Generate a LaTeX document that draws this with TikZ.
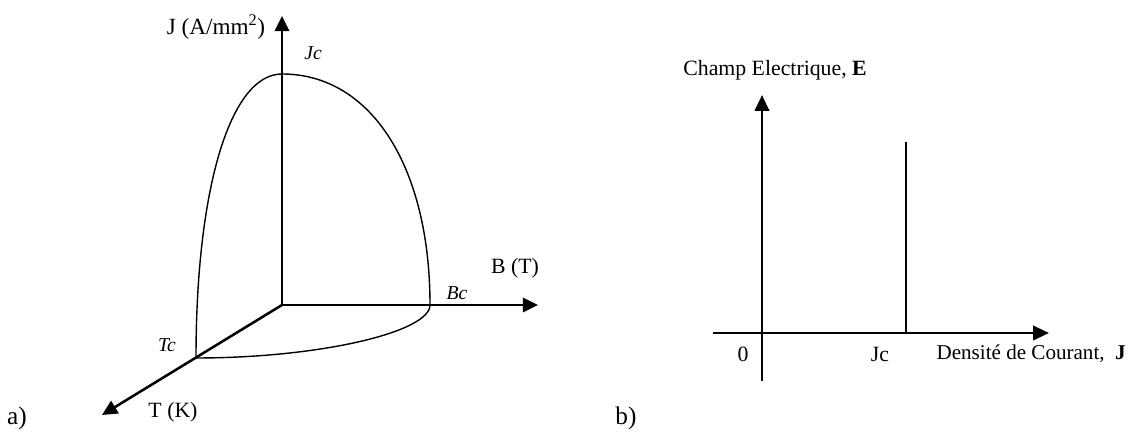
\documentclass[tikz,border=0pt]{standalone}
\usepackage{fontspec}
\setmainfont{Liberation Serif}
\usetikzlibrary{arrows.meta,positioning}

\begin{document}
\begin{tikzpicture}[
    axis/.style={line width=1.8pt,-{Triangle[length=0.38cm,width=0.36cm]}},
    axisb/.style={line width=2pt,-{Triangle[length=0.4cm,width=0.36cm]}},
    curve/.style={line width=1pt},
    lbl/.style={inner sep=0pt,font=\fontsize{15.5}{18}\selectfont},
    crit/.style={inner sep=0pt,font=\fontsize{14}{17}\selectfont\itshape},
    part/.style={inner sep=0pt,font=\fontsize{18}{21}\selectfont}
]
    \useasboundingbox (0,0) rectangle (28.25,10.8);

    % a) critical surface J(B,T)
    \coordinate (O) at (7.05,3.175);
    \coordinate (Jtip) at (7.05,10.4);
    \coordinate (Btip) at (13.45,3.175);
    \coordinate (Ttip) at (2.55,0.425);
    \coordinate (Tc) at (4.9,1.85);
    \coordinate (Bc) at (10.75,3.175);
    \coordinate (Jc) at (7.05,8.95);

    \draw[axis] (O) -- (Jtip);
    \draw[axis] (O) -- (Btip);
    \draw[axis] (O) -- (Ttip);

    \draw[curve] (Tc) .. controls (4.9,6.1) and (5.76,8.95) .. (Jc)
        .. controls (9.27,8.95) and (10.75,6.64) .. (Bc)
        .. controls (10.75,2.5) and (8,1.85) .. (Tc);

    \node[lbl,font=\fontsize{16.5}{19}\selectfont] (Jlab) at (5.4,10.125) {J (A/mm\textsuperscript{2})};
    \node[crit] (Jclab) at (7.825,9.475) {Jc};
    \node[lbl] (Blab) at (12.875,4.1) {B (T)};
    \node[crit] (Bclab) at (11.425,3.475) {Bc};
    \node[crit] (Tclab) at (4.175,2.175) {Tc};
    \node[lbl] (Tlab) at (4.325,0.5) {T (K)};
    \node[part] (alab) at (0.425,0.35) {a)};

    % b) E(J) characteristic
    \coordinate (Ebot) at (19.05,1.275);
    \coordinate (Etip) at (19.05,8.425);
    \coordinate (Jleft) at (17.825,2.475);
    \coordinate (Jright) at (26.225,2.475);
    \coordinate (Jcb) at (22.65,2.475);
    \coordinate (Jctop) at (22.65,7.25);

    \draw[axisb] (Ebot) -- (Etip);
    \draw[axisb] (Jleft) -- (Jright);
    \draw[line width=2pt] (Jcb) -- (Jctop);

    \node[lbl] (Elab) at (19.375,9.05) {Champ Electrique, \textbf{E}};
    \node[lbl] (zero) at (18.575,1.95) {0};
    \node[lbl] (Jcblab) at (22.0,1.95) {Jc};
    \node[lbl,font=\fontsize{15}{18}\selectfont,anchor=east] (Dlab) at (28.15,1.95) {Densité de Courant,\ \ \textbf{J}};
    \node[part] (blab) at (15.65,0.35) {b)};
\end{tikzpicture}
\end{document}
